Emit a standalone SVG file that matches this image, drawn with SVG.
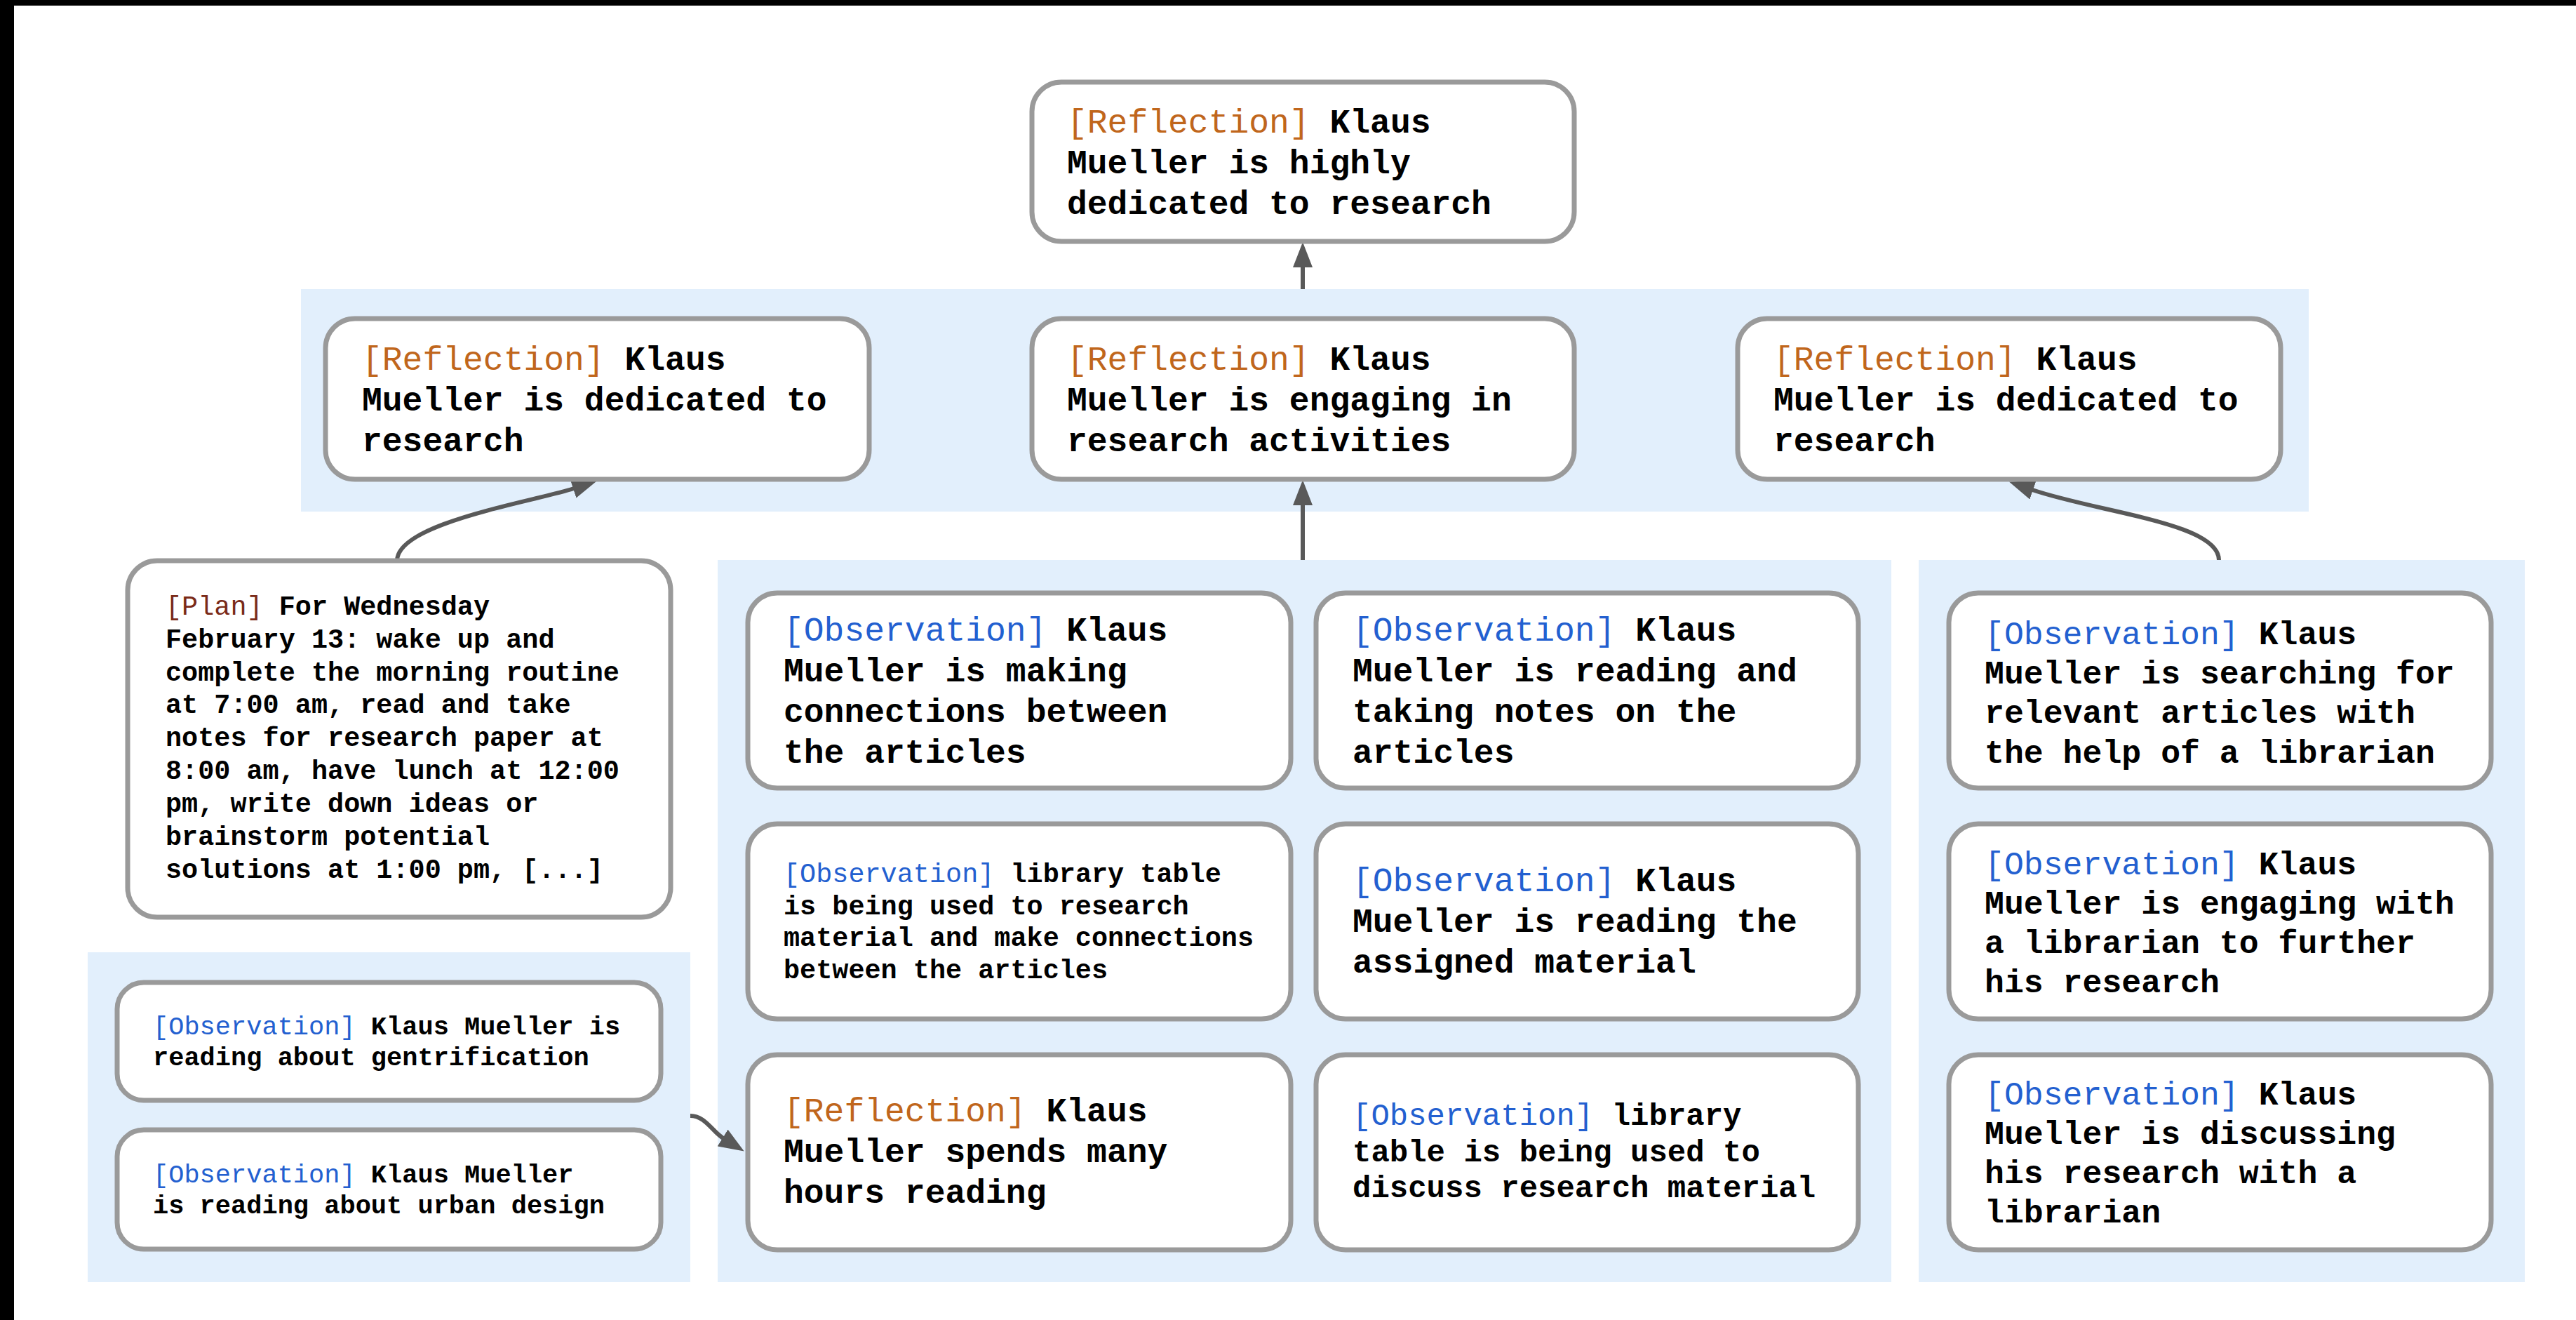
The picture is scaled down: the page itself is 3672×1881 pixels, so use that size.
<svg xmlns="http://www.w3.org/2000/svg" width="3672" height="1881" viewBox="0 0 3672 1881">
<style>
.panel{fill:#e2effc}
.box{fill:#fff;stroke:#9a9a9a;stroke-width:7}
text{font-family:"Liberation Mono","Courier New",monospace;font-weight:bold;fill:#000}
.b48{font-size:48px}
.b46{font-size:46.5px}
.b44{font-size:44px}
.s38{font-size:38.5px}
.s37{font-size:37px}
.r{fill:#c0661c;font-weight:normal}
.o{fill:#2360d0;font-weight:normal}
.p{fill:#7a2a18;font-weight:normal}
.edge{fill:none;stroke:#595959;stroke-width:6}
</style>
<defs>
<marker id="ah" markerUnits="userSpaceOnUse" markerWidth="36" markerHeight="28" viewBox="0 0 36 28" refX="1" refY="14" orient="auto">
<path d="M0,0 L36,14 L0,28 z" fill="#595959"/>
</marker>
</defs>
<rect x="0" y="0" width="3672" height="1881" fill="#fff"/>
<rect x="0" y="0" width="3672" height="8" fill="#000"/>
<rect x="0" y="0" width="20" height="1881" fill="#000"/>
<g id="panels">
<rect class="panel" x="429" y="412" width="2862" height="317"/>
<rect class="panel" x="1023" y="798" width="1673" height="1029"/>
<rect class="panel" x="2735" y="798" width="864" height="1029"/>
<rect class="panel" x="125" y="1357" width="859" height="470"/>
</g>
<g id="connectors">
<path class="edge" d="M1857,412 L1857,380" marker-end="url(#ah)"/>
<path class="edge" d="M1857,798 L1857,719" marker-end="url(#ah)"/>
<path class="edge" d="M566,799 C566,745 760,715 818,696" marker-end="url(#ah)"/>
<path class="edge" d="M3163,798 C3163,745 2990,730 2897,698" marker-end="url(#ah)"/>
<path class="edge" d="M984,1590 C1005,1590 1015,1612 1031,1622" marker-end="url(#ah)"/>
</g>
<g id="n-top">
<rect class="box" x="1471" y="117" width="773" height="227" rx="42"/>
<text class="b48" x="1521"><tspan x="1521" y="189"><tspan class="r">[Reflection]</tspan> Klaus</tspan><tspan x="1521" y="247">Mueller is highly</tspan><tspan x="1521" y="305">dedicated to research</tspan></text>
</g>
<g id="n-refl-left">
<rect class="box" x="464" y="454" width="775" height="229" rx="42"/>
<text class="b48"><tspan x="516" y="527"><tspan class="r">[Reflection]</tspan> Klaus</tspan><tspan x="516" y="585">Mueller is dedicated to</tspan><tspan x="516" y="643">research</tspan></text>
</g>
<g id="n-refl-mid">
<rect class="box" x="1471" y="454" width="773" height="229" rx="42"/>
<text class="b48"><tspan x="1521" y="527"><tspan class="r">[Reflection]</tspan> Klaus</tspan><tspan x="1521" y="585">Mueller is engaging in</tspan><tspan x="1521" y="643">research activities</tspan></text>
</g>
<g id="n-refl-right">
<rect class="box" x="2477" y="454" width="774" height="229" rx="42"/>
<text class="b48"><tspan x="2528" y="527"><tspan class="r">[Reflection]</tspan> Klaus</tspan><tspan x="2528" y="585">Mueller is dedicated to</tspan><tspan x="2528" y="643">research</tspan></text>
</g>
<g id="n-plan">
<rect class="box" x="182" y="799" width="774" height="508" rx="42"/>
<text class="s38"><tspan x="236" y="876"><tspan class="p">[Plan]</tspan> For Wednesday</tspan><tspan x="236" y="923">February 13: wake up and</tspan><tspan x="236" y="970">complete the morning routine</tspan><tspan x="236" y="1016">at 7:00 am, read and take</tspan><tspan x="236" y="1063">notes for research paper at</tspan><tspan x="236" y="1110">8:00 am, have lunch at 12:00</tspan><tspan x="236" y="1157">pm, write down ideas or</tspan><tspan x="236" y="1204">brainstorm potential</tspan><tspan x="236" y="1251">solutions at 1:00 pm, [...]</tspan></text>
</g>
<g id="n-obs-connections">
<rect class="box" x="1066" y="845" width="774" height="278" rx="42"/>
<text class="b48"><tspan x="1117" y="913"><tspan class="o">[Observation]</tspan> Klaus</tspan><tspan x="1117" y="971">Mueller is making</tspan><tspan x="1117" y="1029">connections between</tspan><tspan x="1117" y="1087">the articles</tspan></text>
</g>
<g id="n-obs-notes">
<rect class="box" x="1876" y="845" width="773" height="278" rx="42"/>
<text class="b48"><tspan x="1928" y="913"><tspan class="o">[Observation]</tspan> Klaus</tspan><tspan x="1928" y="971">Mueller is reading and</tspan><tspan x="1928" y="1029">taking notes on the</tspan><tspan x="1928" y="1087">articles</tspan></text>
</g>
<g id="n-obs-table-research">
<rect class="box" x="1066" y="1174" width="774" height="278" rx="42"/>
<text class="s38"><tspan x="1117" y="1257"><tspan class="o">[Observation]</tspan> library table</tspan><tspan x="1117" y="1303">is being used to research</tspan><tspan x="1117" y="1348">material and make connections</tspan><tspan x="1117" y="1394">between the articles</tspan></text>
</g>
<g id="n-obs-assigned">
<rect class="box" x="1876" y="1174" width="773" height="278" rx="42"/>
<text class="b48"><tspan x="1928" y="1270"><tspan class="o">[Observation]</tspan> Klaus</tspan><tspan x="1928" y="1328">Mueller is reading the</tspan><tspan x="1928" y="1386">assigned material</tspan></text>
</g>
<g id="n-refl-hours">
<rect class="box" x="1066" y="1503" width="774" height="278" rx="42"/>
<text class="b48"><tspan x="1117" y="1598"><tspan class="r">[Reflection]</tspan> Klaus</tspan><tspan x="1117" y="1656">Mueller spends many</tspan><tspan x="1117" y="1714">hours reading</tspan></text>
</g>
<g id="n-obs-table-discuss">
<rect class="box" x="1876" y="1503" width="773" height="278" rx="42"/>
<text class="b44"><tspan x="1928" y="1603"><tspan class="o">[Observation]</tspan> library</tspan><tspan x="1928" y="1655">table is being used to</tspan><tspan x="1928" y="1706">discuss research material</tspan></text>
</g>
<g id="n-obs-searching">
<rect class="box" x="2778" y="845" width="773" height="278" rx="42"/>
<text class="b46"><tspan x="2829" y="918"><tspan class="o">[Observation]</tspan> Klaus</tspan><tspan x="2829" y="974">Mueller is searching for</tspan><tspan x="2829" y="1030">relevant articles with</tspan><tspan x="2829" y="1087">the help of a librarian</tspan></text>
</g>
<g id="n-obs-engaging">
<rect class="box" x="2778" y="1174" width="773" height="278" rx="42"/>
<text class="b46"><tspan x="2829" y="1246"><tspan class="o">[Observation]</tspan> Klaus</tspan><tspan x="2829" y="1302">Mueller is engaging with</tspan><tspan x="2829" y="1358">a librarian to further</tspan><tspan x="2829" y="1414">his research</tspan></text>
</g>
<g id="n-obs-discussing">
<rect class="box" x="2778" y="1503" width="773" height="278" rx="42"/>
<text class="b46"><tspan x="2829" y="1574"><tspan class="o">[Observation]</tspan> Klaus</tspan><tspan x="2829" y="1630">Mueller is discussing</tspan><tspan x="2829" y="1686">his research with a</tspan><tspan x="2829" y="1742">librarian</tspan></text>
</g>
<g id="n-obs-gentrification">
<rect class="box" x="167" y="1400" width="775" height="168" rx="38"/>
<text class="s37"><tspan x="218" y="1474"><tspan class="o">[Observation]</tspan> Klaus Mueller is</tspan><tspan x="218" y="1518">reading about gentrification</tspan></text>
</g>
<g id="n-obs-urban">
<rect class="box" x="167" y="1610" width="775" height="170" rx="38"/>
<text class="s37"><tspan x="218" y="1685"><tspan class="o">[Observation]</tspan> Klaus Mueller</tspan><tspan x="218" y="1729">is reading about urban design</tspan></text>
</g>
</svg>
